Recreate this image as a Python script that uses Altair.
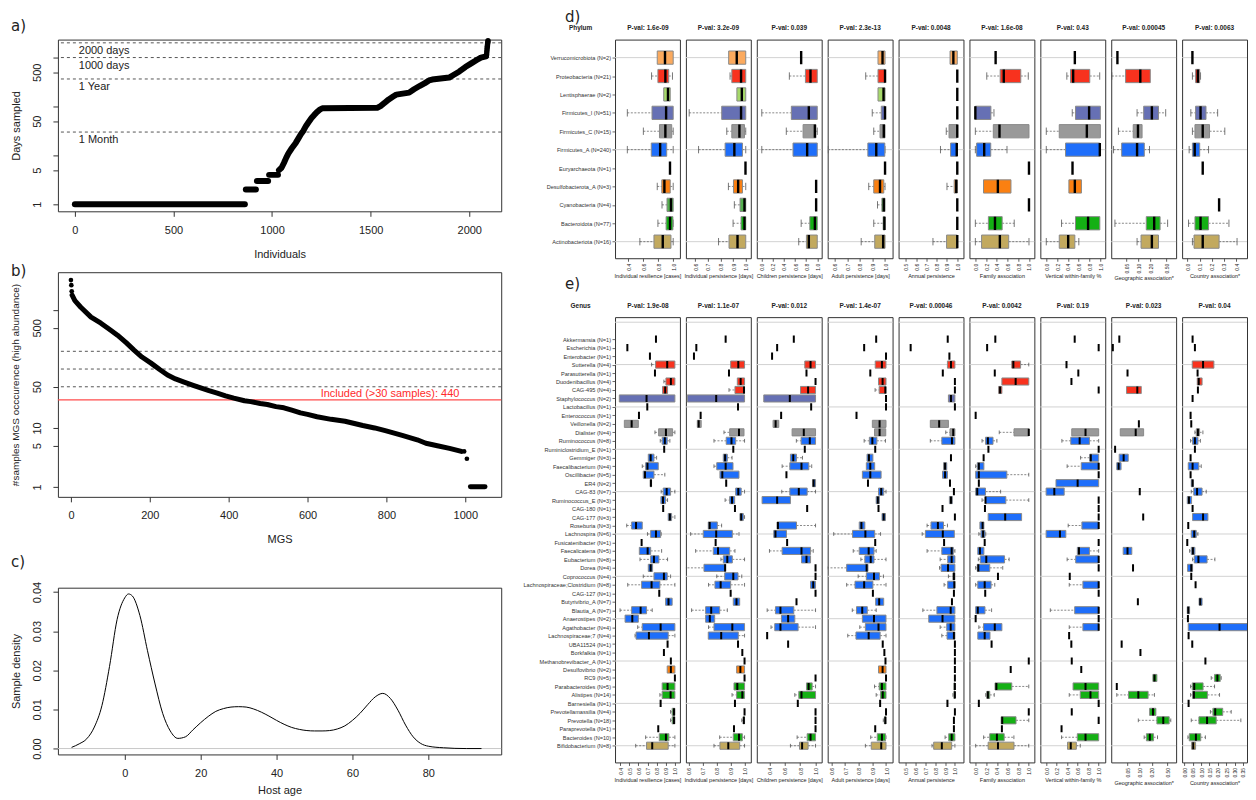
import json
import altair as alt
import pandas as pd

FONT = "Liberation Sans"
LFONT = "DejaVu Sans"
INK = "#222222"

# ---------------- panel a) : days sampled per individual ----------------
a_steps = [
    [(0, 1), (862, 1)],
    [(867, 2), (918, 2)],
    [(923, 3), (980, 3)],
    [(985, 4), (1030, 4)],
    [(1035, 5), (1048, 5.6), (1060, 7), (1072, 9), (1083, 11), (1100, 14), (1120, 18),
     (1133, 22), (1146, 27), (1159, 32), (1172, 40), (1184, 47), (1200, 58), (1215, 68),
     (1225, 75), (1240, 85), (1255, 92), (1533, 94), (1550, 102), (1570, 118), (1590, 138),
     (1614, 160), (1630, 175), (1695, 192), (1720, 225), (1750, 265), (1775, 300),
     (1796, 340), (1812, 355), (1898, 390), (1920, 440), (1950, 520), (1980, 640),
     (2010, 760), (2040, 900), (2059, 1000), (2085, 1060)],
]
a_tail_individual = [2088, 2089, 2090, 2091, 2092, 2093, 2094, 2095]
a_tail_days = [1150, 1300, 1450, 1600, 1750, 1900, 2050, 2200]
a_ref_days = [2000, 1000, 365, 30]
a_ref_labels = ["2000 days", "1000 days", "1 Year", "1 Month"]
a_ref_label_at = 20

# ---------------- panel b) : MGS occurrence ----------------
b_top_mgs = [0, 1, 2]
b_top_samples = [3230, 2650, 2090]
b_curve = [(3, 1790), (10, 1450), (25, 1120), (51, 760), (76, 600), (100, 460), (118, 375),
           (140, 280), (160, 210), (180, 160), (203, 126), (225, 98), (245, 79), (265, 68),
           (287, 60), (310, 53), (329, 48), (350, 43), (371, 39), (392, 35), (413, 32),
           (440, 29), (456, 28), (480, 26), (498, 25), (520, 23), (540, 22), (560, 20),
           (582, 18), (600, 17), (624, 15.5), (660, 14), (695, 13), (740, 11), (770, 10),
           (797, 9), (840, 7.5), (878, 6.3), (900, 5.5), (929, 5), (960, 4.5), (990, 4)]
b_drop_mgs = [997, 1004]
b_drop_samples = [4, 3]
b_floor = [(1013, 1), (1050, 1)]
b_ref_samples = [200, 100, 50]
b_cutoff = [30]
b_label = ["Included (>30 samples): 440"]
b_label_at = [985]

# ---------------- panel c) : host age density ----------------
c_age = [-14, -12, -10, -8, -6, -4, -2, 0, 1, 2, 4, 6, 8, 10, 12, 14, 16, 18, 20, 22, 24, 26,
         28, 30, 32, 34, 36, 38, 40, 42, 44, 46, 48, 50, 52, 54, 56, 58, 60, 62, 64, 66, 68,
         70, 72, 74, 76, 78, 80, 84, 90, 94]
c_density = [0.0003, 0.0012, 0.0025, 0.0055, 0.011, 0.021, 0.033, 0.0385, 0.0395, 0.039,
             0.034, 0.025, 0.0165, 0.009, 0.0045, 0.0026, 0.003, 0.0048, 0.0066, 0.0082,
             0.0095, 0.0102, 0.0106, 0.0107, 0.0106, 0.0101, 0.0093, 0.0083, 0.0072, 0.0062,
             0.0054, 0.0049, 0.0046, 0.0045, 0.0045, 0.0046, 0.005, 0.0058, 0.0072, 0.009,
             0.0112, 0.0132, 0.0141, 0.0128, 0.0098, 0.006, 0.003, 0.0013, 0.0006, 0.0002,
             0.0, 0.0]
c_zero = [0.0]

# ---------------- panels d) and e) : categories ----------------
phylum_colors = {
    "Verrucomicrobiota": "#FBAA5E", "Proteobacteria": "#F8321E", "Lentisphaerae": "#A6D96A",
    "Firmicutes_I": "#6670B4", "Firmicutes_C": "#999999", "Firmicutes_A": "#1E6EFA",
    "Euryarchaeota": "#555555", "Desulfobacterota_A": "#FB8011", "Cyanobacteria": "#55B04F",
    "Bacteroidota": "#14B014", "Actinobacteriota": "#C2A95E",
}
d_phyla = ["Verrucomicrobiota", "Proteobacteria", "Lentisphaerae", "Firmicutes_I",
           "Firmicutes_C", "Firmicutes_A", "Euryarchaeota", "Desulfobacterota_A",
           "Cyanobacteria", "Bacteroidota", "Actinobacteriota"]
d_names = ["Verrucomicrobiota (N=2)", "Proteobacteria (N=21)", "Lentisphaerae (N=2)",
           "Firmicutes_I (N=51)", "Firmicutes_C (N=15)", "Firmicutes_A (N=240)",
           "Euryarchaeota (N=1)", "Desulfobacterota_A (N=3)", "Cyanobacteria (N=4)",
           "Bacteroidota (N=77)", "Actinobacteriota (N=16)"]
e_names = ["Akkermansia (N=1)", "Escherichia (N=1)", "Enterobacter (N=1)", "Sutterella (N=4)",
           "Parasutterella (N=1)", "Duodenibacillus (N=4)", "CAG-495 (N=4)",
           "Staphylococcus (N=2)", "Lactobacillus (N=1)", "Enterococcus (N=1)",
           "Veillonella (N=2)", "Dialister (N=4)", "Ruminococcus (N=8)",
           "Ruminiclostridium_E (N=1)", "Gemmiger (N=3)", "Faecalibacterium (N=4)",
           "Oscillibacter (N=5)", "ER4 (N=2)", "CAG-83 (N=7)", "Ruminococcus_E (N=3)",
           "CAG-180 (N=1)", "CAG-177 (N=3)", "Roseburia (N=3)", "Lachnospira (N=6)",
           "Fusicatenibacter (N=1)", "Faecalicatena (N=5)", "Eubacterium (N=8)", "Dorea (N=4)",
           "Coprococcus (N=4)", "Lachnospiraceae;Clostridium (N=8)", "CAG-127 (N=1)",
           "Butyrivibrio_A (N=7)", "Blautia_A (N=7)", "Anaerostipes (N=2)",
           "Agathobacter (N=4)", "Lachnospiraceae;7 (N=4)", "UBA11524 (N=1)",
           "Borkfalkia (N=1)", "Methanobrevibacter_A (N=1)", "Desulfovibrio (N=2)",
           "RC9 (N=5)", "Parabacteroides (N=5)", "Alistipes (N=14)", "Barnesiella (N=1)",
           "Prevotellamassilia (N=4)", "Prevotella (N=18)", "Paraprevotella (N=1)",
           "Bacteroides (N=10)", "Bifidobacterium (N=8)"]
e_phyla = (["Verrucomicrobiota"] * 1 + ["Proteobacteria"] * 6 + ["Firmicutes_I"] * 3
           + ["Firmicutes_C"] * 2 + ["Firmicutes_A"] * 26 + ["Euryarchaeota"]
           + ["Desulfobacterota_A"] + ["Bacteroidota"] * 8 + ["Actinobacteriota"])

panel_titles = ["Individual resilience [cases]", "Individual persistence [days]",
                "Children persistence [days]", "Adult persistence [days]",
                "Annual persistence", "Family association", "Vertical within-family %",
                "Geographic association*", "Country association*"]
d_pvals = ["1.6e-09", "3.2e-09", "0.039", "2.3e-13", "0.0048", "1.6e-08", "0.43", "0.00045", "0.0063"]
e_pvals = ["1.9e-08", "1.1e-07", "0.012", "1.4e-07", "0.00046", "0.0042", "0.19", "0.023", "0.04"]

# box summaries: value = single N=1 value, tuple = (whisker low, q1, median, q3, whisker high)
d_resilience = [(0.786, 0.786, 0.89, 1.0, 1.0), (0.71, 0.795, 0.895, 0.94, 0.99),
                (0.873, 0.873, 0.93, 0.96, 0.96), (0.385, 0.716, 0.905, 1.0, 1.0),
                (0.60, 0.816, 0.895, 0.98, 1.0), (0.385, 0.706, 0.825, 0.913, 1.0), 0.957,
                (0.786, 0.847, 0.882, 0.96, 1.0), (0.85, 0.917, 0.97, 1.0, 1.0),
                (0.795, 0.905, 0.957, 0.996, 1.0), (0.553, 0.742, 0.86, 0.97, 1.0)]
d_persistence = [(0.865, 0.865, 0.929, 1.0, 1.0), (0.876, 0.89, 0.963, 1.0, 1.0),
                 (0.93, 0.93, 0.969, 1.0, 1.0), (0.553, 0.81, 0.963, 1.0, 1.0),
                 (0.85, 0.89, 0.95, 0.99, 1.0), (0.627, 0.837, 0.91, 0.974, 1.0), 0.998,
                 (0.863, 0.903, 0.94, 0.974, 1.0), (0.91, 0.955, 0.99, 1.0, 1.0),
                 (0.90, 0.963, 0.99, 1.0, 1.0), (0.785, 0.868, 0.935, 1.0, 1.0)]
d_children = [0.71, (0.497, 0.787, 0.878, 1.0, 1.0), None, (0.0, 0.533, 0.848, 1.0, 1.0),
              (0.442, 0.745, 0.957, 0.975, 1.0), (0.0, 0.563, 0.818, 1.0, 1.0), None, 0.98,
              0.98, (0.71, 0.866, 0.957, 1.0, 1.0), (0.666, 0.805, 0.848, 1.0, 1.0)]
d_adult = [(0.944, 0.944, 0.98, 1.0, 1.0), (0.846, 0.944, 1.0, 1.0, 1.0),
           (0.944, 0.944, 0.988, 1.0, 1.0), (0.898, 0.97, 1.0, 1.0, 1.0),
           (0.91, 0.96, 0.99, 1.0, 1.0), (0.545, 0.863, 0.93, 0.998, 1.0), 1.0,
           (0.87, 0.91, 0.96, 0.99, 1.0), (0.94, 0.975, 0.99, 1.0, 1.0),
           (0.91, 0.985, 0.995, 1.0, 1.0), (0.81, 0.918, 0.985, 1.0, 1.0)]
d_annual = [(0.93, 0.93, 0.962, 1.0, 1.0), 1.0, 1.0, 1.0, (0.893, 0.92, 1.0, 1.0, 1.0),
            (0.837, 0.935, 0.995, 1.0, 1.0), 1.0, (0.9, 0.97, 0.99, 1.0, 1.0), 1.0, 1.0,
            (0.764, 0.896, 1.0, 1.0, 1.0)]
d_family = [0.378, (0.213, 0.463, 0.53, 0.847, 0.987), None, (0.0, 0.0, 0.0, 0.29, 0.347),
            (0.0, 0.335, 0.45, 1.0, 1.0), (0.0, 0.024, 0.165, 0.287, 0.59), 1.0,
            (0.152, 0.152, 0.42, 0.664, 0.664), 1.0, (0.0, 0.243, 0.366, 0.5, 0.725),
            (0.0, 0.116, 0.457, 0.622, 1.0)]
d_vertical = [0.528, (0.38, 0.448, 0.497, 0.804, 0.988), None, (0.48, 0.54, 0.792, 1.0, 1.0),
              (0.0, 0.24, 0.75, 1.0, 1.0), (0.0, 0.356, 0.99, 0.99, 0.99), 0.485,
              (0.418, 0.418, 0.528, 0.65, 0.65), None, (0.282, 0.54, 0.773, 0.99, 0.99),
              (0.0, 0.24, 0.405, 0.528, 0.602)]
d_geographic = [0.030, (0.0217, 0.048, 0.112, 0.199, 0.199), None,
                (0.093, 0.136, 0.218, 0.319, 0.483), (0.0318, 0.0745, 0.098, 0.124, 0.124),
                (0.024, 0.0383, 0.093, 0.141, 0.19), None, None, None,
                (0.026, 0.158, 0.249, 0.35, 0.54), (0.093, 0.117, 0.218, 0.319, 0.319)]
d_country = [0.04, (0.04, 0.066, 0.085, 0.1, 0.107), None, (0.027, 0.066, 0.107, 0.152, 0.248),
             (0.04, 0.061, 0.125, 0.181, 0.307), (0.013, 0.04, 0.059, 0.1, 0.173), 0.125, None,
             0.26, (0.008, 0.061, 0.107, 0.173, 0.341), (0.04, 0.053, 0.125, 0.26, 0.408)]

e_resilience = [0.793, 0.48, 0.727, (0.745, 0.789, 0.916, 1.0, 1.0), 0.782,
                (0.88, 0.902, 0.956, 1.0, 1.0), (0.865, 0.865, 0.894, 0.92, 0.92),
                (0.392, 0.392, 0.69, 1.0, 1.0), 0.698, 0.607, (0.447, 0.447, 0.527, 0.6, 0.6),
                (0.782, 0.822, 0.902, 0.975, 1.0), (0.84, 0.861, 0.89, 0.916, 0.945), 0.883,
                (0.709, 0.709, 0.735, 0.771, 0.8), (0.643, 0.68, 0.70, 0.818, 0.818),
                (0.654, 0.654, 0.673, 0.771, 0.89), (0.73, 0.73, 0.738, 0.745, 0.745),
                (0.85, 0.872, 0.91, 0.953, 1.0), (0.847, 0.847, 0.87, 0.898, 0.92), 0.872,
                (0.927, 0.927, 0.945, 0.964, 1.0), (0.473, 0.527, 0.575, 0.643, 0.643),
                (0.70, 0.735, 0.793, 0.844, 0.85), 0.636, (0.611, 0.611, 0.702, 0.735, 0.855),
                (0.618, 0.735, 0.771, 0.825, 0.92), (0.709, 0.709, 0.735, 0.756, 0.756),
                (0.654, 0.771, 0.88, 0.916, 0.953), (0.484, 0.636, 0.745, 0.836, 1.0), 0.829,
                (0.898, 0.898, 0.93, 0.97, 0.97), (0.4, 0.527, 0.625, 0.69, 0.752),
                (0.455, 0.455, 0.534, 0.6, 0.6), (0.593, 0.643, 0.844, 1.0, 1.0),
                (0.564, 0.575, 0.716, 0.927, 1.0), 0.92, 0.88, 0.956,
                (0.916, 0.916, 0.956, 1.0, 1.0), 1.0, (0.861, 0.861, 0.92, 1.0, 1.0),
                (0.836, 0.861, 0.953, 1.0, 1.0), 0.844, (0.953, 0.97, 0.99, 1.0, 1.0),
                (0.953, 0.97, 0.99, 1.0, 1.0), 0.818, (0.68, 0.829, 0.902, 0.934, 1.0),
                (0.571, 0.69, 0.752, 0.927, 1.0)]
e_persistence = [0.864, 0.653, 0.636, (0.9, 0.9, 0.955, 1.0, 1.0), 0.888,
                 (0.948, 0.948, 0.972, 1.0, 1.0), (0.888, 0.931, 0.996, 1.0, 1.0),
                 (0.588, 0.588, 0.796, 1.0, 1.0), 0.953, 0.684, (0.66, 0.66, 0.67, 0.688, 0.688),
                 (0.852, 0.893, 0.96, 0.996, 0.996), (0.78, 0.868, 0.906, 0.936, 1.0), 0.919,
                 (0.847, 0.847, 0.86, 0.876, 0.91), (0.78, 0.80, 0.864, 0.917, 0.917),
                 (0.823, 0.823, 0.84, 0.96, 0.96), 0.868, (0.936, 0.936, 0.955, 0.976, 1.0),
                 (0.86, 0.893, 0.91, 0.929, 0.929), 0.931, (0.967, 0.967, 0.976, 0.991, 1.0),
                 (0.739, 0.739, 0.749, 0.804, 0.835), (0.612, 0.703, 0.796, 0.912, 0.96), 0.792,
                 (0.648, 0.775, 0.809, 0.893, 0.931), (0.83, 0.847, 0.876, 0.912, 1.0),
                 (0.564, 0.708, 0.86, 0.864, 0.864), (0.80, 0.857, 0.919, 0.953, 0.98),
                 (0.741, 0.787, 0.828, 0.9, 1.0), 0.9, (0.919, 0.919, 0.942, 0.965, 0.965),
                 (0.619, 0.72, 0.76, 0.821, 0.876), (0.72, 0.72, 0.75, 0.785, 0.785),
                 (0.741, 0.78, 0.912, 1.0, 1.0), (0.739, 0.739, 0.832, 0.955, 1.0), 0.953,
                 0.984, 1.0, (0.943, 0.943, 0.97, 1.0, 1.0), 1.0, (0.924, 0.924, 0.948, 1.0, 1.0),
                 (0.91, 0.943, 0.984, 1.0, 1.0), 0.931, 1.0, (0.98, 0.99, 0.995, 1.0, 1.0),
                 0.924, (0.821, 0.919, 0.96, 0.984, 1.0), (0.78, 0.823, 0.883, 0.965, 1.0)]
e_children = [0.717, 0.5, 0.434, (0.86, 0.86, 0.935, 1.0, 1.0), 0.882, 1.0,
              (0.804, 0.804, 0.903, 1.0, 1.0), (0.326, 0.326, 0.665, 1.0, 1.0), 0.943, 0.552,
              (0.447, 0.447, 0.48, 0.521, 0.521), (0.695, 0.695, 0.847, 1.0, 1.0),
              (0.75, 0.812, 0.925, 1.0, 1.0), 0.86, (0.673, 0.673, 0.71, 0.752, 0.83),
              (0.565, 0.665, 0.817, 0.912, 0.95), 0.621, (0.96, 0.96, 0.975, 1.0, 1.0),
              (0.56, 0.665, 0.782, 0.891, 1.0), (0.304, 0.304, 0.5, 0.673, 0.673), 0.891, None,
              (0.5, 0.5, 0.51, 0.752, 1.0), (0.456, 0.456, 0.478, 0.621, 0.621), 0.63,
              (0.4, 0.565, 0.817, 0.935, 0.97), (0.817, 0.817, 0.882, 0.935, 0.935), 1.0, 1.0,
              (0.935, 0.935, 0.97, 1.0, 1.0), 1.0, 0.752, (0.37, 0.478, 0.543, 0.717, 1.0),
              (0.556, 0.556, 0.643, 0.73, 0.73), (0.42, 0.469, 0.543, 0.773, 1.0), 0.37, 0.643,
              None, None, None, 1.0, (0.882, 0.882, 0.91, 0.956, 1.0),
              (0.73, 0.782, 0.817, 1.0, 1.0), 0.769, 1.0, 1.0, 1.0,
              (0.76, 0.891, 0.935, 1.0, 1.0), (0.673, 0.791, 0.825, 0.903, 1.0)]
e_adult = [0.928, 0.84, 1.0, (0.921, 0.921, 0.97, 1.0, 1.0), 0.885,
           (0.945, 0.945, 0.975, 1.0, 1.0), (0.92, 0.95, 0.995, 1.0, 1.0), 1.0, 1.0, 0.784,
           (0.9, 0.9, 0.953, 1.0, 1.0), (0.916, 0.916, 0.953, 0.998, 0.998),
           (0.84, 0.878, 0.9, 0.933, 0.996), 0.921, (0.861, 0.861, 0.875, 0.904, 0.904),
           (0.856, 0.856, 0.885, 0.917, 0.917), (0.827, 0.827, 0.885, 0.964, 0.964), 0.868,
           (0.945, 0.945, 0.965, 0.983, 1.0), (0.928, 0.928, 0.94, 0.952, 0.952), 0.945,
           (0.971, 0.971, 0.983, 0.996, 0.996), (0.804, 0.804, 0.82, 0.845, 0.845),
           (0.617, 0.755, 0.849, 0.917, 0.96), 0.921, (0.76, 0.804, 0.873, 0.912, 0.928),
           (0.816, 0.845, 0.888, 0.912, 1.0), (0.568, 0.712, 0.858, 0.868, 0.868),
           (0.796, 0.856, 0.912, 0.952, 0.981), (0.712, 0.773, 0.84, 0.904, 1.0), 0.904,
           (0.924, 0.924, 0.95, 0.983, 0.983), (0.753, 0.784, 0.826, 0.863, 0.928),
           (0.827, 0.827, 0.912, 1.0, 1.0), (0.808, 0.849, 0.945, 1.0, 1.0),
           (0.72, 0.78, 0.873, 0.957, 1.0), 0.976, 0.988, 0.996, (0.945, 0.945, 0.975, 1.0, 1.0),
           1.0, (0.916, 0.95, 0.97, 1.0, 1.0), (0.928, 0.96, 0.976, 1.0, 1.0), 0.957, 1.0,
           (0.98, 0.988, 0.995, 1.0, 1.0), 0.921, (0.888, 0.936, 0.97, 0.996, 1.0),
           (0.849, 0.892, 0.965, 1.0, 1.0)]
e_annual = [0.927, 0.55, 0.944, (0.924, 0.924, 0.96, 1.0, 1.0), 0.877, 1.0, 1.0,
            (0.934, 0.934, 0.96, 1.0, 1.0), 1.0, None, (0.75, 0.75, 0.84, 0.934, 0.934),
            (0.907, 0.95, 0.983, 1.0, 1.0), (0.75, 0.867, 0.97, 1.0, 1.0), None, 0.96,
            (0.884, 0.884, 0.90, 0.917, 0.917), (0.874, 0.874, 0.90, 0.924, 0.924), 0.95, 0.99,
            (0.944, 0.944, 0.96, 0.974, 0.974), 0.874, 1.0, (0.717, 0.757, 0.827, 0.884, 0.924),
            (0.667, 0.70, 0.877, 0.994, 0.994), 0.89, (0.717, 0.867, 0.967, 0.984, 1.0),
            (0.85, 0.927, 0.967, 1.0, 1.0), (0.844, 0.86, 0.93, 1.0, 1.0),
            (0.934, 0.98, 0.99, 1.0, 1.0), (0.89, 0.927, 0.994, 1.0, 1.0), 0.99, 0.97,
            (0.674, 0.817, 0.957, 1.0, 1.0), (0.734, 0.734, 0.874, 1.0, 1.0),
            (0.85, 0.917, 0.957, 1.0, 1.0), (0.867, 0.92, 0.99, 1.0, 1.0), 1.0, 1.0, 1.0, 1.0,
            1.0, (0.99, 0.99, 1.0, 1.0, 1.0), (0.98, 0.99, 1.0, 1.0, 1.0), 0.924, 1.0, 0.99,
            0.99, (0.9, 0.937, 0.967, 1.0, 1.0), (0.767, 0.784, 0.867, 0.967, 1.0)]
e_family = [0.37, 0.216, None, (0.68, 0.68, 0.71, 0.846, 1.0), 0.36,
            (0.494, 0.494, 0.753, 1.0, 1.0), (0.432, 0.432, 0.46, 0.494, 0.494), None, None, 0.0,
            None, (0.444, 0.722, 1.0, 1.0, 1.0), (0.12, 0.185, 0.23, 0.327, 0.40), 0.24, 0.15,
            (0.0, 0.03, 0.06, 0.155, 0.155), (0.0, 0.0, 0.06, 0.587, 1.0), 0.06,
            (0.0, 0.0, 0.03, 0.185, 0.47), (0.12, 0.185, 0.185, 0.568, 1.0), 0.175,
            (0.235, 0.235, 0.556, 0.865, 0.865), (0.08, 0.08, 0.13, 0.155, 0.155),
            (0.06, 0.1, 0.14, 0.175, 0.19), 0.17, (0.04, 0.04, 0.08, 0.155, 0.155),
            (0.05, 0.087, 0.2, 0.544, 0.63), (0.0, 0.03, 0.05, 0.265, 0.51), 0.42,
            (0.0, 0.04, 0.17, 0.29, 0.36), 0.18, None, (0.0, 0.0, 0.04, 0.175, 0.3), 0.0,
            (0.06, 0.148, 0.36, 0.494, 0.494), (0.04, 0.04, 0.17, 0.27, 0.27), 0.3, None, 1.0,
            0.66, None, (0.365, 0.365, 0.39, 0.68, 1.0), (0.19, 0.21, 0.23, 0.265, 0.35), 0.06,
            1.0, (0.48, 0.48, 0.50, 0.76, 1.0), 0.494, (0.15, 0.265, 0.4, 0.537, 0.72),
            (0.0, 0.235, 0.42, 0.722, 1.0)]
e_vertical = [0.544, 1.0, None, 0.388, 0.613, 0.482, 1.0, None, None, None, None,
              (0.488, 0.488, 0.75, 1.0, 1.0), (0.3, 0.469, 0.638, 0.825, 1.0), 1.0,
              (0.656, 0.831, 0.85, 1.0, 1.0), (0.4, 0.669, 1.0, 1.0, 1.0), 1.0,
              (0.188, 0.188, 0.6, 1.0, 1.0), (0.0, 0.0, 0.156, 0.344, 0.344), 1.0, 1.0, 1.0,
              (0.42, 0.681, 1.0, 1.0, 1.0), (0.0, 0.0, 0.263, 0.375, 0.375), 1.0,
              (0.594, 0.594, 0.625, 0.825, 1.0), (0.4, 0.563, 1.0, 1.0, 1.0), 1.0, 0.45,
              (0.44, 0.7, 1.0, 1.0, 1.0), 1.0, None, (0.08, 0.544, 1.0, 1.0, 1.0), 1.0,
              (0.44, 0.7, 1.0, 1.0, 1.0), 0.438, 0.48, None, 0.488, 0.669, None,
              (0.513, 0.513, 0.75, 1.0, 1.0), (0.44, 0.65, 0.844, 1.0, 1.0), 1.0, 0.488, 1.0,
              0.294, (0.294, 0.594, 0.75, 1.0, 1.0), (0.407, 0.407, 0.469, 0.575, 0.65)]
e_geographic = [0.0312, 0.0215, None, None, 0.05, None, (0.0473, 0.0473, 0.0877, 0.11, 0.11),
                None, None, None, 0.096, (0.033, 0.033, 0.08, 0.126, 0.126), None, 0.0245,
                (0.031, 0.031, 0.04, 0.052, 0.052), (0.027, 0.027, 0.03, 0.0345, 0.0345), None,
                None, 0.101, None, None, 0.123, None, None, None,
                (0.039, 0.039, 0.05, 0.064, 0.064), None, 0.0686, None, None, None, 0.0906,
                None, None, None, None, 0.0357, 0.105, None, None,
                (0.215, 0.215, 0.235, 0.27, 0.27), 0.027, (0.027, 0.053, 0.093, 0.163, 0.235),
                None, (0.178, 0.178, 0.216, 0.255, 0.255), (0.093, 0.27, 0.39, 0.547, 0.6), None,
                (0.13, 0.148, 0.18, 0.223, 0.28), None]
e_country = [0.048, 0.062, None, (0.046, 0.046, 0.111, 0.176, 0.176), 0.078,
             (0.076, 0.076, 0.085, 0.105, 0.105), 0.08, 0.048, None, 0.036, 0.04,
             (0.062, 0.07, 0.08, 0.09, 0.11), (0.036, 0.048, 0.062, 0.08, 0.095), 0.062, 0.036,
             (0.022, 0.022, 0.048, 0.085, 0.1), 0.036, (0.04, 0.04, 0.048, 0.052, 0.052),
             (0.04, 0.055, 0.075, 0.105, 0.13), (0.016, 0.016, 0.026, 0.042, 0.042), 0.048,
             (0.048, 0.048, 0.111, 0.14, 0.14), 0.022, (0.04, 0.04, 0.058, 0.07, 0.08), 0.016,
             (0.03, 0.04, 0.05, 0.062, 0.062), (0.048, 0.058, 0.083, 0.135, 0.182),
             (0.018, 0.018, 0.04, 0.048, 0.048), 0.04, 0.066, None,
             (0.087, 0.087, 0.094, 0.105, 0.105), (0.016, 0.016, 0.022, 0.03, 0.03), 0.02,
             (0.022, 0.022, 0.21, 0.45, 0.45), 0.024, 0.046, None, 0.125, None,
             (0.16, 0.18, 0.197, 0.214, 0.22), (0.036, 0.046, 0.058, 0.111, 0.18),
             (0.036, 0.048, 0.056, 0.137, 0.21), 0.024, (0.155, 0.17, 0.184, 0.229, 0.28),
             (0.04, 0.086, 0.135, 0.19, 0.338), None, (0.02, 0.028, 0.068, 0.097, 0.125),
             (0.042, 0.042, 0.052, 0.066, 0.066)]

d_columns = [d_resilience, d_persistence, d_children, d_adult, d_annual, d_family,
             d_vertical, d_geographic, d_country]
e_columns = [e_resilience, e_persistence, e_children, e_adult, e_annual, e_family,
             e_vertical, e_geographic, e_country]

d_domains = [[0.22, 1.09], [0.527, 1.04], [-0.09, 1.08], [0.543, 1.06], [0.43, 1.06],
             [-0.11, 1.1], [-0.11, 1.09], [0.021, 0.88], [-0.045, 0.49]]
e_domains = [[0.345, 1.055], [0.578, 1.045], [0.235, 1.08], [0.573, 1.048], [0.427, 1.087],
             [-0.117, 1.105], [-0.11, 1.125], [0.0196, 0.815], [-0.015, 0.375]]
d_ticks = [[0.4, 0.6, 0.8, 1.0], [0.6, 0.7, 0.8, 0.9, 1.0], [0.0, 0.2, 0.4, 0.6, 0.8, 1.0],
           [0.6, 0.7, 0.8, 0.9, 1.0], [0.5, 0.6, 0.7, 0.8, 0.9, 1.0],
           [0.0, 0.2, 0.4, 0.6, 0.8, 1.0], [0.0, 0.2, 0.4, 0.6, 0.8, 1.0],
           [0.05, 0.1, 0.2, 0.5], [0.0, 0.1, 0.2, 0.3, 0.4]]
e_ticks = [[0.4, 0.5, 0.6, 0.7, 0.8, 0.9, 1.0], [0.6, 0.7, 0.8, 0.9, 1.0],
           [0.4, 0.6, 0.8, 1.0], [0.6, 0.7, 0.8, 0.9, 1.0], [0.5, 0.6, 0.7, 0.8, 0.9, 1.0],
           [0.0, 0.2, 0.4, 0.6, 0.8, 1.0], [0.0, 0.2, 0.4, 0.6, 0.8, 1.0],
           [0.05, 0.1, 0.2, 0.5], [0.0, 0.05, 0.1, 0.15, 0.2, 0.25, 0.3, 0.35]]
d_formats = [".1f"] * 7 + [".2f", ".1f"]
e_formats = [".1f"] * 7 + [".2f", ".2f"]
log_column = 7

d_row_domain = [0.02, 11.9]
e_row_domain = [-1.6, 50.97]
d_grid_rows = [1, 6, 11]
e_grid_rows = [-1, 4, 9, 14, 19, 24, 29, 34, 39, 44, 49]


# ---------------- helpers ----------------
def letter_title(text, offset, dx=-47):
    return alt.TitleParams(text=text, anchor="start", frame="group", dx=dx, fontSize=15,
                           font=LFONT, fontWeight="normal", color=INK, offset=offset)


def left_axis(values, title, fmt, expr, title_size=11, title_pad=1):
    return alt.Axis(values=values, format=fmt, title=title, labelExpr=expr, labelAngle=-90,
                    labelAlign="center", labelBaseline="bottom", labelFont=FONT,
                    labelFontSize=11, labelColor=INK, tickSize=5, tickColor="#333333",
                    labelPadding=10, domain=False, grid=False, titleFont=FONT,
                    titleFontSize=title_size, titleFontWeight="normal", titleColor=INK,
                    titlePadding=title_pad, minExtent=35, maxExtent=35, labelOverlap=False)


def bottom_axis(values, title, label_pad=8, title_pad=13):
    return alt.Axis(values=values, format="d", title=title, labelAngle=0, labelFont=FONT,
                    labelFontSize=11, labelColor=INK, tickSize=5, tickColor="#333333",
                    labelPadding=label_pad, domain=False, grid=False, titleFont=FONT,
                    titleFontSize=11, titleFontWeight="normal", titleColor=INK,
                    titlePadding=title_pad, labelFlush=False, labelOverlap=False)


def segments_frame(segments):
    return pd.DataFrame([{"seg": s, "k": k, "x": x, "y": y}
                         for s, seg in enumerate(segments) for k, (x, y) in enumerate(seg)])


# ---------------- a) ----------------
a_xs = alt.Scale(domain=[-86, 2162], nice=False, zero=False)
a_ys = alt.Scale(type="log", domain=[0.72, 2330], nice=False)
a_X = alt.X("x:Q", scale=a_xs, axis=bottom_axis([0, 500, 1000, 1500, 2000], "Individuals"))
a_Y = alt.Y("y:Q", scale=a_ys,
            axis=left_axis([1, 5, 10, 50, 100, 500, 1000], "Days sampled", "d",
                           "(datum.value == 1 || datum.value == 5 || datum.value == 50 || datum.value == 500) ? datum.label : ''"))
a_ref_df = pd.DataFrame({"y": a_ref_days, "label": a_ref_labels,
                         "x": [a_ref_label_at] * len(a_ref_days)})
a_chart = alt.layer(
    alt.Chart(a_ref_df).mark_rule(color="#555555", strokeDash=[3, 3], strokeWidth=1).encode(y=a_Y),
    alt.Chart(a_ref_df).mark_text(align="left", baseline="top", dy=2, font=FONT, fontSize=11,
                                  color=INK).encode(x=a_X, y=a_Y, text="label:N"),
    alt.Chart(segments_frame(a_steps)).mark_line(color="black", strokeWidth=6, strokeCap="round",
                                                 strokeJoin="round").encode(
        x=a_X, y=a_Y, detail="seg:N", order="k:Q"),
    alt.Chart(pd.DataFrame({"x": a_tail_individual, "y": a_tail_days})).mark_circle(
        color="black", size=30, opacity=1).encode(x=a_X, y=a_Y),
).properties(width=444, height=172, title=letter_title("a)", 4))

# ---------------- b) ----------------
b_xs = alt.Scale(domain=[-33, 1091], nice=False, zero=False)
b_ys = alt.Scale(type="log", domain=[0.677, 4400], nice=False)
b_X = alt.X("x:Q", scale=b_xs, axis=bottom_axis([0, 200, 400, 600, 800, 1000], "MGS",
                                                label_pad=8, title_pad=13))
b_Y = alt.Y("y:Q", scale=b_ys,
            axis=left_axis([1, 5, 10, 50, 500, 1000], "#samples MGS occcurence (high abundance)",
                           "d", "datum.value == 1000 ? '' : datum.label", title_size=10,
                           title_pad=2))
b_dots = pd.DataFrame({"x": b_top_mgs + b_drop_mgs, "y": b_top_samples + b_drop_samples})
b_cut_df = pd.DataFrame({"y": b_cutoff, "x": b_label_at, "label": b_label})
b_chart = alt.layer(
    alt.Chart(pd.DataFrame({"y": b_ref_samples})).mark_rule(
        color="#555555", strokeDash=[3, 3], strokeWidth=1).encode(y=b_Y),
    alt.Chart(b_cut_df).mark_rule(color="#FF4D4D", strokeWidth=1.2).encode(y=b_Y),
    alt.Chart(b_cut_df).mark_text(align="right", baseline="alphabetic", dy=-3, font=FONT,
                                  fontSize=11, color="#FF2A2A").encode(x=b_X, y=b_Y,
                                                                       text="label:N"),
    alt.Chart(segments_frame([b_curve, b_floor])).mark_line(
        color="black", strokeWidth=5, strokeCap="round", strokeJoin="round").encode(
        x=b_X, y=b_Y, detail="seg:N", order="k:Q"),
    alt.Chart(b_dots).mark_circle(color="black", size=22, opacity=1).encode(x=b_X, y=b_Y),
).properties(width=444, height=225, title=letter_title("b)", -7))

# ---------------- c) ----------------
c_xs = alt.Scale(domain=[-17.6, 99.2], nice=False, zero=False)
c_ys = alt.Scale(domain=[-0.0015, 0.0411], nice=False, zero=False)
c_X = alt.X("x:Q", scale=c_xs, axis=bottom_axis([0, 20, 40, 60, 80], "Host age",
                                                label_pad=8, title_pad=6))
c_Y = alt.Y("y:Q", scale=c_ys,
            axis=left_axis([0, 0.01, 0.02, 0.03, 0.04], "Sample density", ".2f", "datum.label"))
c_chart = alt.layer(
    alt.Chart(pd.DataFrame({"y": c_zero})).mark_rule(color="#C8C8C8", strokeWidth=1).encode(y=c_Y),
    alt.Chart(pd.DataFrame({"x": c_age, "y": c_density})).mark_line(
        color="black", strokeWidth=1, interpolate="monotone").encode(x=c_X, y=c_Y),
).properties(width=444, height=167, title=letter_title("c)", 11))

left = alt.vconcat(alt.vconcat(a_chart, b_chart, spacing=3), c_chart, spacing=9)


# ---------------- d) / e) boxplot panels ----------------
def box_frame(entries, phyla, half, cap):
    recs = []
    for i, e in enumerate(entries):
        if e is None:
            continue
        r = i + 1
        if isinstance(e, tuple):
            lo, q1, md, q3, hi = e
            single = 0
        else:
            lo = q1 = md = q3 = hi = float(e)
            single = 1
        recs.append({"row": r, "lo": lo, "q1": q1, "med": md, "q3": q3, "hi": hi,
                     "single": single, "fill": phylum_colors[phyla[i]],
                     "y0": r - half, "y1": r + half, "c0": r - cap, "c1": r + cap})
    return pd.DataFrame(recs)


def box_panel(entries, phyla, k, domain, ticks, fmt, pval, height, row_domain, grid_rows,
              half, cap, med_w, names=None, header=None, letter=None, letter_offset=0):
    df = box_frame(entries, phyla, half, cap)
    xs = alt.Scale(type="log" if k == log_column else "linear", domain=domain, nice=False,
                   zero=False)
    ys = alt.Scale(domain=row_domain, reverse=True, nice=False, zero=False)
    xaxis = alt.Axis(values=ticks, format=fmt, title=panel_titles[k], labelAngle=-90,
                     labelAlign="right", labelBaseline="middle", labelFont=FONT,
                     labelFontSize=5, labelColor=INK, tickSize=3, tickColor="#333333",
                     tickWidth=0.8, labelPadding=2, domain=False, grid=False, titleFont=FONT,
                     titleFontSize=5.5, titleFontWeight="normal", titleColor=INK,
                     titlePadding=3, labelFlush=False, labelOverlap=False)
    if names is not None:
        yaxis = alt.Axis(values=list(range(1, len(names) + 1)),
                         labelExpr=f"{json.dumps(names)}[datum.value - 1]", labelFont=FONT,
                         labelFontSize=5.6, labelColor="#333333", tickSize=3,
                         tickColor="#444444", tickWidth=0.8, labelPadding=1.5, domain=False,
                         grid=False, title=header, titleAngle=0, titleAlign="center",
                         titleBaseline="middle", titleX=-35, titleY=-12, titleFont=FONT,
                         titleFontSize=6.5, titleFontWeight="bold", titleColor=INK,
                         labelOverlap=False)
    else:
        yaxis = None

    def X(f):
        return alt.X(f, scale=xs, axis=xaxis)

    def Y(f):
        return alt.Y(f, scale=ys, axis=yaxis)

    grid_df = pd.DataFrame({"row": grid_rows, "x0": domain[0], "x1": domain[1]})
    base = alt.Chart(df)
    layers = [
        alt.Chart(grid_df).mark_rule(color="#D2D2D2", strokeWidth=1).encode(
            x=X("x0:Q"), x2="x1", y=Y("row:Q")),
        base.transform_filter("datum.lo < datum.q1").mark_rule(
            color="#555555", strokeWidth=0.7, strokeDash=[2, 1.5], clip=True).encode(
            x=X("lo:Q"), x2="q1", y=Y("row:Q")),
        base.transform_filter("datum.hi > datum.q3").mark_rule(
            color="#555555", strokeWidth=0.7, strokeDash=[2, 1.5], clip=True).encode(
            x=X("q3:Q"), x2="hi", y=Y("row:Q")),
        base.transform_filter("datum.lo < datum.q1").mark_rule(
            color="#555555", strokeWidth=0.8, clip=True).encode(
            x=X("lo:Q"), y=Y("c0:Q"), y2="c1"),
        base.transform_filter("datum.hi > datum.q3").mark_rule(
            color="#555555", strokeWidth=0.8, clip=True).encode(
            x=X("hi:Q"), y=Y("c0:Q"), y2="c1"),
        base.transform_filter("datum.single == 0").mark_rect(
            stroke="#8A8A8A", strokeWidth=1, clip=True).encode(
            x=X("q1:Q"), x2="q3", y=Y("y0:Q"), y2="y1", color=alt.Color("fill:N", scale=None)),
        base.mark_rule(color="black", strokeWidth=med_w, clip=True).encode(
            x=X("med:Q"), y=Y("y0:Q"), y2="y1"),
    ]
    pval_text = f"P-val: {pval}"
    main = alt.layer(*layers)
    if letter is None:
        title = alt.TitleParams(text=pval_text, fontSize=6.5, fontWeight="bold", font=FONT,
                                color=INK, offset=8, anchor="middle")
        return main.properties(width=65, height=height, title=title)
    # first panel: panel letter as chart title, p-value carried by a right-side axis title
    tag = alt.Chart(pd.DataFrame({"v": [0]})).mark_point(opacity=0).encode(
        y=alt.Y("v:Q", axis=alt.Axis(orient="right", title=pval_text, titleAngle=0,
                                     titleX=-32.5, titleY=-12, titleAlign="center",
                                     titleBaseline="middle", titleFont=FONT,
                                     titleFontSize=6.5, titleFontWeight="bold",
                                     titleColor=INK, labels=False, ticks=False,
                                     domain=False, grid=False)))
    return alt.layer(main, tag).resolve_scale(y="independent").properties(
        width=65, height=height, title=letter_title(letter, letter_offset, dx=-50))


panels = []
for k in range(9):
    first = k == 0
    panels.append(box_panel(d_columns[k], d_phyla, k, d_domains[k], d_ticks[k], d_formats[k],
                            d_pvals[k], 219, d_row_domain, d_grid_rows, 0.36, 0.2, 2.4,
                            names=d_names if first else None,
                            header="Phylum" if first else None,
                            letter="d)" if first else None, letter_offset=0))
for k in range(9):
    first = k == 0
    panels.append(box_panel(e_columns[k], e_phyla, k, e_domains[k], e_ticks[k], e_formats[k],
                            e_pvals[k], 446, e_row_domain, e_grid_rows, 0.42, 0.22, 2.0,
                            names=e_names if first else None,
                            header="Genus" if first else None,
                            letter="e)" if first else None, letter_offset=10))

right = alt.concat(*panels, columns=9, spacing={"row": 59, "column": 6}, bounds="flush",
                   align="each")

chart = alt.hconcat(left, right, spacing=19).properties(
    padding={"left": 2, "top": 0, "right": 0, "bottom": 0}, background="white"
).configure_view(stroke="#333333", strokeWidth=1)

chart.save("out.html", embed_options={"renderer": "svg", "actions": False})
